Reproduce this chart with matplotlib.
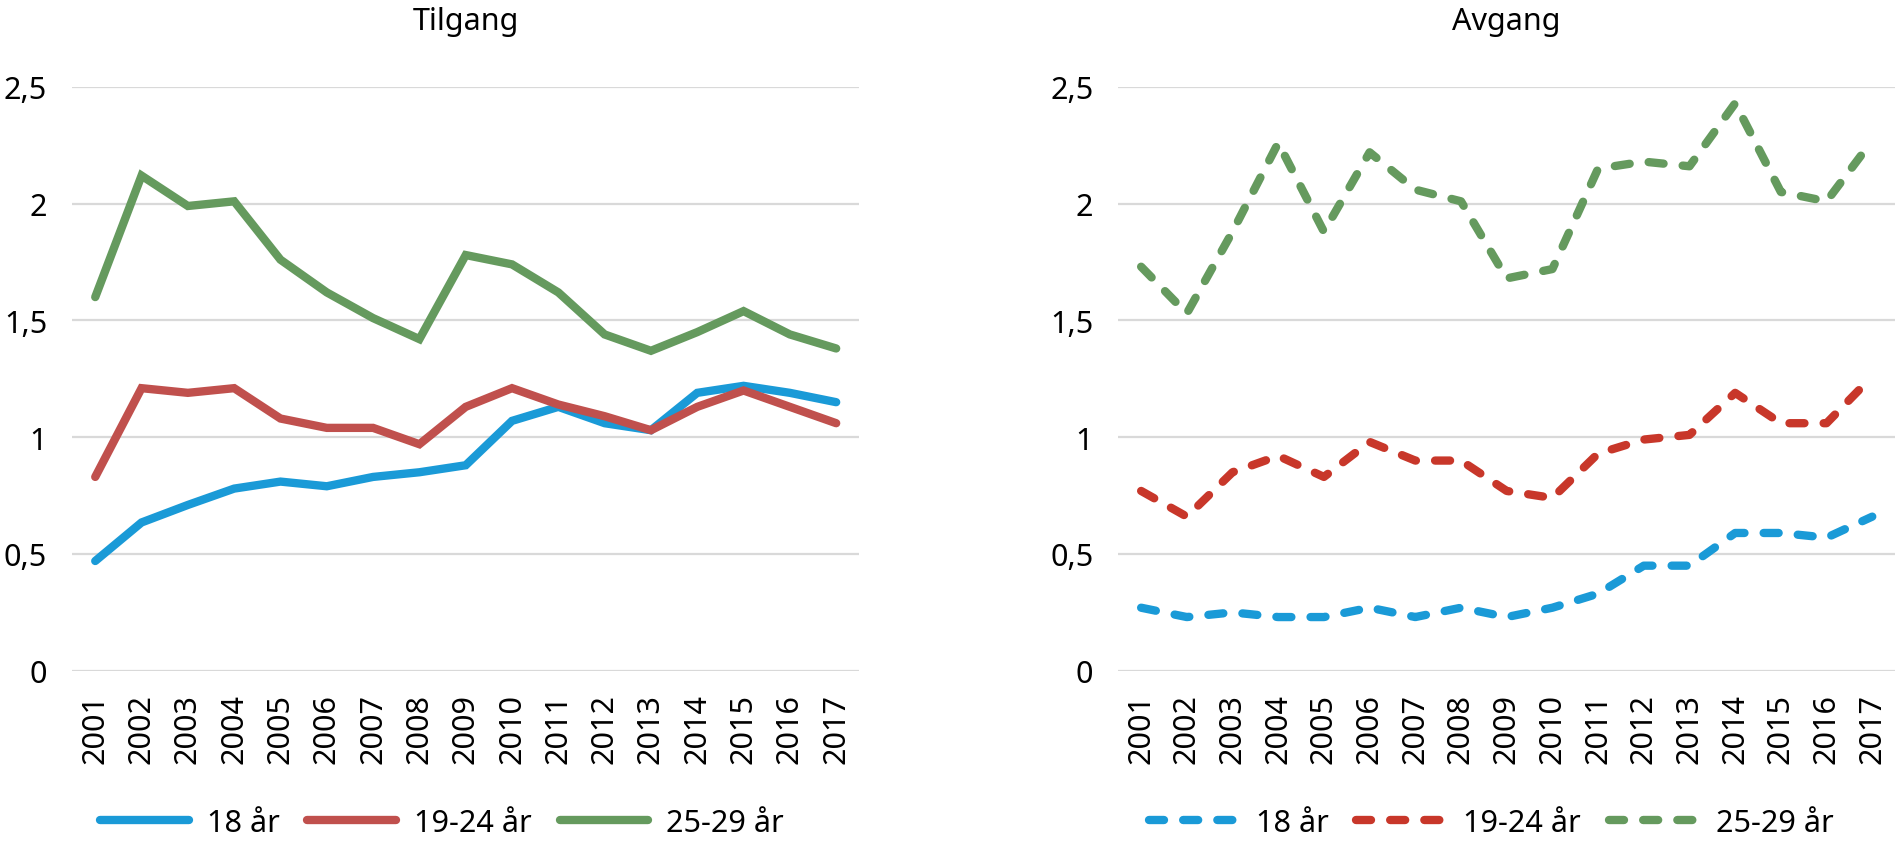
import matplotlib
matplotlib.use("Agg")
import matplotlib.pyplot as plt
from matplotlib.ticker import FuncFormatter

# Data
aar = [str(a) for a in range(2001, 2018)]
serier = ["18 år", "19-24 år", "25-29 år"]

tilgang_18 = [0.47, 0.635, 0.71, 0.78, 0.81, 0.79, 0.83, 0.85, 0.88, 1.07, 1.13, 1.06, 1.03, 1.19, 1.22, 1.19, 1.15]
tilgang_19_24 = [0.83, 1.21, 1.19, 1.21, 1.08, 1.04, 1.04, 0.97, 1.13, 1.21, 1.14, 1.09, 1.03, 1.13, 1.20, 1.13, 1.06]
tilgang_25_29 = [1.60, 2.12, 1.99, 2.01, 1.76, 1.62, 1.51, 1.42, 1.78, 1.74, 1.62, 1.44, 1.37, 1.45, 1.54, 1.44, 1.38]

avgang_18 = [0.27, 0.23, 0.25, 0.23, 0.23, 0.27, 0.23, 0.27, 0.23, 0.27, 0.33, 0.45, 0.45, 0.59, 0.59, 0.57, 0.66]
avgang_19_24 = [0.77, 0.66, 0.85, 0.92, 0.83, 0.98, 0.90, 0.90, 0.77, 0.74, 0.93, 0.99, 1.01, 1.19, 1.06, 1.06, 1.26]
avgang_25_29 = [1.73, 1.53, 1.88, 2.26, 1.88, 2.22, 2.06, 2.01, 1.68, 1.72, 2.15, 2.18, 2.16, 2.43, 2.05, 2.01, 2.27]

y_ticks = [0, 0.5, 1, 1.5, 2, 2.5]

farger_tilgang = ["#1A9AD7", "#C0504D", "#659A5E"]
farger_avgang = ["#1A9AD7", "#C8372A", "#659A5E"]

plt.rcParams["font.family"] = ["Noto Sans", "DejaVu Sans"]

fig = plt.figure(figsize=(18.97, 8.45), dpi=100)
ax1 = fig.add_axes([0.038, 0.205, 0.415, 0.691])
ax2 = fig.add_axes([0.5895, 0.205, 0.4095, 0.691])

x = list(range(len(aar)))


def oppsett(ax, tittel):
    ax.set_xlim(-0.5, len(aar) - 0.5)
    ax.set_ylim(0, 2.5)
    ax.set_yticks(y_ticks)
    ax.yaxis.set_major_formatter(FuncFormatter(lambda v, p: f"{v:g}".replace(".", ",")))
    ax.set_xticks(x)
    ax.set_xticklabels(aar, rotation=90, fontsize=22)
    ax.tick_params(axis="y", labelsize=22, length=0, pad=18)
    ax.tick_params(axis="x", length=0, pad=16)
    for s in ax.spines.values():
        s.set_visible(False)
    ax.grid(axis="y", color="#D9D9D9", linewidth=1.6)
    ax.set_axisbelow(True)
    ax.set_title(tittel, fontsize=22, pad=42)


# Tilgang (heltrukne linjer)
for verdier, navn, farge in zip([tilgang_18, tilgang_19_24, tilgang_25_29], serier, farger_tilgang):
    ax1.plot(x, verdier, color=farge, linewidth=6, label=navn, clip_on=False,
             solid_capstyle="round", solid_joinstyle="miter")
oppsett(ax1, "Tilgang")

# Avgang (stiplede linjer)
for verdier, navn, farge in zip([avgang_18, avgang_19_24, avgang_25_29], serier, farger_avgang):
    ax2.plot(x, verdier, color=farge, linewidth=6, label=navn, clip_on=False,
             dashes=(1.8, 2.3), dash_capstyle="round", dash_joinstyle="round")
oppsett(ax2, "Avgang")

ax1.legend(loc="center", bbox_to_anchor=(0.47, -0.26), ncol=3, frameon=False,
           fontsize=22, handlelength=2.9, columnspacing=0.9, handletextpad=0.6)
ax2.legend(loc="center", bbox_to_anchor=(0.48, -0.26), ncol=3, frameon=False,
           fontsize=22, handlelength=2.9, columnspacing=0.9, handletextpad=0.6)

fig.savefig("out.png", dpi=100)
